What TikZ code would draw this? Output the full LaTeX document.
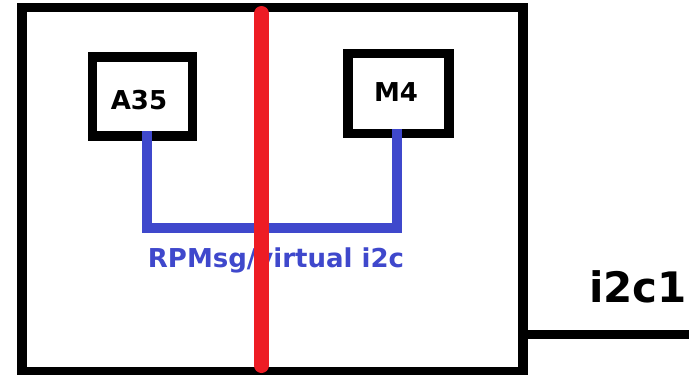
\documentclass[tikz,border=0pt]{standalone}
\usepackage{fontspec}
\newfontfamily\dvfont{DejaVu Sans}
\definecolor{pred}{HTML}{ED1C24}
\definecolor{pblue}{HTML}{3F48CC}
\begin{document}
\begin{tikzpicture}[x=1pt,y=1pt,
  boxstyle/.style={draw=black,line width=9.5pt,minimum width=100pt,minimum height=79pt,inner sep=0pt,outer sep=0pt},
  lbl/.style={font=\dvfont\bfseries\fontsize{26}{30}\selectfont,inner sep=0pt},
  bus/.style={draw=pblue,line width=10pt},
  redline/.style={draw=pred,line width=15pt,line cap=round}]
\useasboundingbox (0,-375) rectangle (689,0);
\fill[white] (0,-375) rectangle (689,0);
\node[draw=black,line width=9.5pt,minimum width=501pt,minimum height=364.5pt,inner sep=0pt,outer sep=0pt] (board) at (272.5,-189.75) {};
\node[boxstyle] (a35) at (142.5,-96.5) {};
\node[boxstyle,minimum width=101pt,minimum height=80pt] (m4) at (398.5,-93.5) {};
\node[lbl] (a35t) at (139,-100) {A35};
\node[lbl] (m4t) at (396,-92.5) {M4};
\coordinate (busmid) at (270,-228);
\draw[bus] ([xshift=4.5pt,yshift=5pt]a35.south) |- (busmid) -| ([xshift=-1.5pt,yshift=5pt]m4.south);
\node[lbl,text=pblue] (rpm) at (276,-260) {RPMsg/virtual i2c};
\coordinate (i2cend) at (700,-334.5);
\draw[line width=9pt] ([xshift=-4.75pt]i2cend -| board.east) -- (i2cend);
\node[font=\dvfont\bfseries\fontsize{42}{46}\selectfont,inner sep=0pt,anchor=base west] (i2c) at (589,-302) {i2c1};
\coordinate (rtop) at (261.5,-13.5);
\coordinate (rbot) at (261.5,-365.5);
\draw[redline] (rtop) -- (rbot);
\end{tikzpicture}
\end{document}
